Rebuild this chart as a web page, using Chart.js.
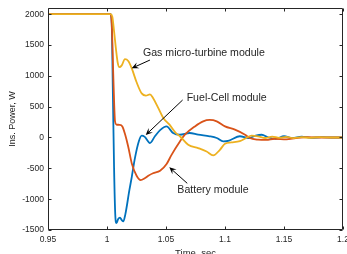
<!DOCTYPE html>
<html><head><meta charset="utf-8">
<script src="https://cdn.jsdelivr.net/npm/chart.js@4.4.0/dist/chart.umd.min.js"></script>
<style>html,body{margin:0;padding:0;background:#fff;overflow:hidden}#wrap{width:347px;height:254px}</style>
</head><body><div id="wrap"><canvas id="c" width="347" height="254"></canvas></div>
<script>
// ---- data ----
const gasTime = [0.95,1.003,1.0045,1.006,1.0075,1.009,1.0105,1.0125,1.0152,1.018,1.021,1.025,1.0294,1.033,1.0364,1.039,1.0434,1.0477,1.053,1.058,1.0618,1.0688,1.0773,1.0844,1.090,1.0957,1.1,1.1055,1.1126,1.118,1.1225,1.128,1.134,1.14,1.146,1.152,1.158,1.165,1.172,1.18,1.19,1.2];
const gasPower = [2000,2000,1960,1720,1450,1220,1140,1170,1270,1240,1120,900,715,680,700,640,480,317,208,80,20,-118,-172,-227,-290,-200,-100,-80,-60,-8,30,20,-8,15,-5,10,-10,5,-5,5,0,0];

const fcTime = [0.95,1.003,1.004,1.005,1.006,1.007,1.008,1.0095,1.011,1.0125,1.0138,1.0155,1.019,1.0209,1.0237,1.027,1.0294,1.032,1.0364,1.0406,1.045,1.0505,1.056,1.0618,1.070,1.0773,1.087,1.093,1.0985,1.1035,1.1126,1.12,1.126,1.131,1.137,1.143,1.15,1.157,1.165,1.173,1.182,1.19,1.2];
const fcPower = [2000,2000,1850,700,-500,-1250,-1390,-1320,-1300,-1340,-1360,-1250,-850,-650,-330,-60,30,10,-90,20,120,180,73,45,73,45,20,-8,-64,-50,20,-8,30,45,0,-20,20,-10,15,-5,5,0,0];

const batTime = [0.95,1.003,1.004,1.0055,1.0068,1.008,1.0105,1.013,1.0155,1.018,1.021,1.0251,1.0285,1.032,1.035,1.039,1.045,1.0505,1.0547,1.0618,1.066,1.0745,1.0815,1.087,1.093,1.1,1.1084,1.117,1.121,1.128,1.135,1.142,1.152,1.16,1.17,1.18,1.2];
const batPower = [2000,2000,1850,900,260,210,205,180,40,-150,-420,-620,-690,-660,-620,-580,-540,-430,-281,-64,45,180,262,285,262,180,127,45,-8,-35,-40,-20,-30,-10,5,0,0];

const xTickValues = [0.95,1,1.05,1.1,1.15,1.2];
const yTickValues = [-1500,-1000,-500,0,500,1000,1500,2000];

const labelTexts = ['Gas micro-turbine module','Fuel-Cell module','Battery module'];

// annotation placement (data coords): text anchor, arrow tail, arrow head
const annotations = [
  {text: labelTexts[0], tx: 1.0305, ty: 1370, ax1: 1.0364, ay1: 1256, ax2: 1.0209, ay2: 1122},
  {text: labelTexts[1], tx: 1.0675, ty: 645,  ax1: 1.0641, ay1: 608,  ax2: 1.0328, ay2: 40},
  {text: labelTexts[2], tx: 1.0596, ty: -851, ax1: 1.068,  ay1: -743, ax2: 1.0528, ay2: -483}
];

const pts = (t, p) => t.map((v, i) => ({x: v, y: p[i]}));
const FONT = '"Liberation Sans", Arial, Helvetica, sans-serif';
const INK = '#262626';

const boxPlugin = {
  id: 'boxTicks',
  afterDatasetsDraw(chart) {
    const {ctx, chartArea: a, scales: {x, y}} = chart;
    ctx.save();
    ctx.strokeStyle = INK; ctx.lineWidth = 1;
    const L = Math.round(a.left) + 0.5, R = Math.round(a.right) - 0.5;
    const T = Math.round(a.top) + 0.5, B = Math.round(a.bottom) - 0.5;
    ctx.beginPath();
    ctx.rect(L, T, R - L, B - T);
    xTickValues.forEach(v => {
      const px = Math.round(x.getPixelForValue(v)) + 0.5;
      ctx.moveTo(px, B); ctx.lineTo(px, B - 3);
      ctx.moveTo(px, T); ctx.lineTo(px, T + 3);
    });
    yTickValues.forEach(v => {
      const py = Math.round(y.getPixelForValue(v)) + 0.5;
      ctx.moveTo(L, py); ctx.lineTo(L + 3, py);
      ctx.moveTo(R, py); ctx.lineTo(R - 3, py);
    });
    ctx.stroke();

    // annotations
    ctx.fillStyle = INK; ctx.strokeStyle = '#000';
    ctx.font = '10.6px ' + FONT;
    ctx.textBaseline = 'middle'; ctx.textAlign = 'left';
    annotations.forEach(an => {
      ctx.fillText(an.text, x.getPixelForValue(an.tx), y.getPixelForValue(an.ty));
      const x1 = x.getPixelForValue(an.ax1), y1 = y.getPixelForValue(an.ay1);
      const x2 = x.getPixelForValue(an.ax2), y2 = y.getPixelForValue(an.ay2);
      const ang = Math.atan2(y2 - y1, x2 - x1);
      const c = Math.cos(ang), s = Math.sin(ang);
      const Lh = 7, W = 3.2;
      ctx.lineWidth = 1;
      ctx.beginPath(); ctx.moveTo(x1, y1); ctx.lineTo(x2 - c * 4, y2 - s * 4); ctx.stroke();
      const bx = x2 - Lh * c, by = y2 - Lh * s;
      ctx.fillStyle = '#000';
      ctx.beginPath();
      ctx.moveTo(x2, y2);
      ctx.lineTo(bx - W * s, by + W * c);
      ctx.lineTo(x2 - 0.6 * Lh * c, y2 - 0.6 * Lh * s);
      ctx.lineTo(bx + W * s, by - W * c);
      ctx.closePath(); ctx.fill();
      ctx.fillStyle = INK;
    });
    ctx.restore();
  }
};

new Chart(document.getElementById('c'), {
  type: 'line',
  data: {
    datasets: [
      {label: labelTexts[0], data: pts(gasTime, gasPower), borderColor: '#EDB120'},
      {label: labelTexts[2], data: pts(batTime, batPower), borderColor: '#D95319'},
      {label: labelTexts[1], data: pts(fcTime, fcPower), borderColor: '#0072BD'}
    ]
  },
  options: {
    responsive: false,
    animation: false,
    devicePixelRatio: 1,
    parsing: false,
    layout: {padding: {top: 8, right: 4, left: 0, bottom: 0}},
    elements: {
      line: {borderWidth: 1.8, tension: 0.4, cubicInterpolationMode: 'monotone', fill: false},
      point: {radius: 0}
    },
    plugins: {legend: {display: false}, tooltip: {enabled: false}},
    scales: {
      x: {
        type: 'linear', min: 0.95, max: 1.2,
        grid: {display: false, drawTicks: false},
        border: {display: false},
        afterBuildTicks: s => { s.ticks = xTickValues.map(v => ({value: v})); },
        afterFit: s => { s.height = 24; s.paddingLeft = 0; s.paddingRight = 0; },
        ticks: {autoSkip: false, maxRotation: 0, padding: 5, color: INK,
          font: {family: FONT, size: 8.5}, callback: v => String(+v.toFixed(2))},
        title: {display: true, text: 'Time, sec', color: INK,
          font: {family: FONT, size: 9.5}, padding: {top: 0, bottom: -5.5}}
      },
      y: {
        type: 'linear', min: -1500, max: 2100,
        grid: {display: false, drawTicks: false},
        border: {display: false},
        afterBuildTicks: s => { s.ticks = yTickValues.map(v => ({value: v})); },
        afterFit: s => { s.width = 48; s.paddingTop = 0; s.paddingBottom = 0; },
        ticks: {autoSkip: false, padding: 4, color: INK,
          font: {family: FONT, size: 8.5}, callback: v => String(v)},
        title: {display: true, text: 'Ins. Power, W', color: INK,
          font: {family: FONT, size: 9}, padding: {top: 7.5, bottom: 0}}
      }
    }
  },
  plugins: [boxPlugin]
});
</script></body></html>
